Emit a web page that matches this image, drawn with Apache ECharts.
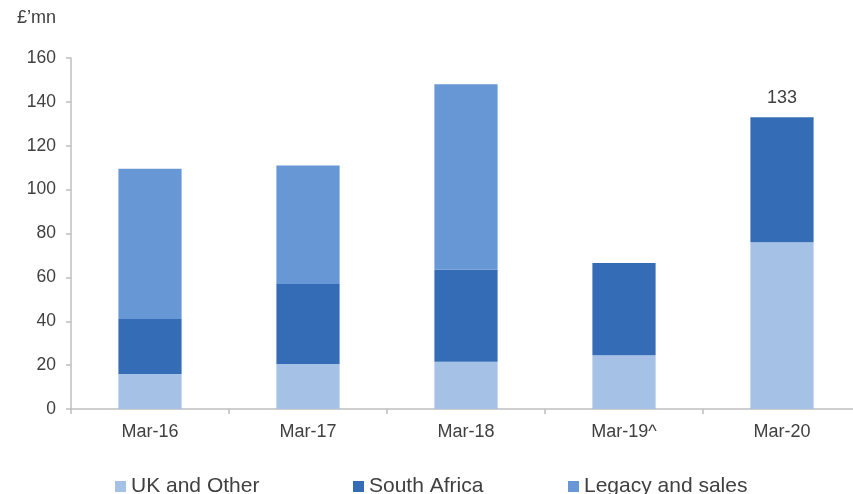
<!DOCTYPE html>
<html>
<head>
<meta charset="utf-8">
<script src="https://cdn.jsdelivr.net/npm/echarts@6/dist/echarts.min.js"></script>
<style>html,body{margin:0;padding:0;background:#fff;overflow:hidden}#c{width:861px;height:494px}</style>
</head>
<body>
<div id="c"></div>
<script>
const categories = ['Mar-16', 'Mar-17', 'Mar-18', 'Mar-19^', 'Mar-20'];
const ukOther = [16, 20.5, 21.5, 24.5, 76];
const southAfrica = [25, 36.5, 42, 42, 57];
const legacySales = [68.5, 54, 84.5, 0, 0];
const totalLabels = [null, null, null, null, 133];
const yTicks = { min: 0, max: 160, interval: 20 };

const FONT = 'Liberation Sans, Arial, sans-serif';
const TXT = '#404040';
const colors = { uk: '#A5C1E6', sa: '#346CB5', legacy: '#6797D5' };

const chart = echarts.init(document.getElementById('c'), null, { renderer: 'canvas' });

function legendAt(name, left) {
  return {
    data: [name], left: left, top: 476, padding: 0, icon: 'rect', itemWidth: 11, itemHeight: 11,
    textStyle: { fontFamily: FONT, fontSize: 21, color: TXT }, selectedMode: false
  };
}

chart.setOption({
  animation: false,
  title: { text: '£’mn', left: 17, top: 9, padding: 0, textStyle: { fontFamily: FONT, fontSize: 18, fontWeight: 'normal', color: TXT } },
  legend: [legendAt('UK and Other', 115), legendAt('South Africa', 353), legendAt('Legacy and sales', 568)],
  grid: { left: 71, right: 0, top: 58, bottom: 85, containLabel: false },
  xAxis: {
    type: 'category', data: categories,
    axisLine: { lineStyle: { color: '#BFBFBF', width: 1.5 } },
    axisTick: { show: true, length: 5, lineStyle: { color: '#BFBFBF', width: 1.5 } },
    axisLabel: { fontFamily: FONT, fontSize: 18, color: TXT, margin: 14 }
  },
  yAxis: {
    type: 'value', min: yTicks.min, max: yTicks.max, interval: yTicks.interval,
    axisLine: { show: true, lineStyle: { color: '#BFBFBF', width: 1.5 } },
    axisTick: { show: true, length: 5, lineStyle: { color: '#BFBFBF', width: 1.5 } },
    splitLine: { show: false },
    axisLabel: { fontFamily: FONT, fontSize: 17.5, color: TXT, margin: 15 }
  },
  series: [
    { name: 'UK and Other', type: 'bar', stack: 't', barWidth: '40%', data: ukOther, itemStyle: { color: colors.uk } },
    {
      name: 'South Africa', type: 'bar', stack: 't', data: southAfrica.map((v, i) => ({
        value: v,
        label: totalLabels[i] != null && legacySales[i] === 0 ? {
          show: true, position: 'top', distance: 10, formatter: String(totalLabels[i]),
          fontFamily: FONT, fontSize: 18, color: TXT
        } : { show: false }
      })), itemStyle: { color: colors.sa }
    },
    { name: 'Legacy and sales', type: 'bar', stack: 't', data: legacySales, itemStyle: { color: colors.legacy } }
  ]
});
</script>
</body>
</html>
